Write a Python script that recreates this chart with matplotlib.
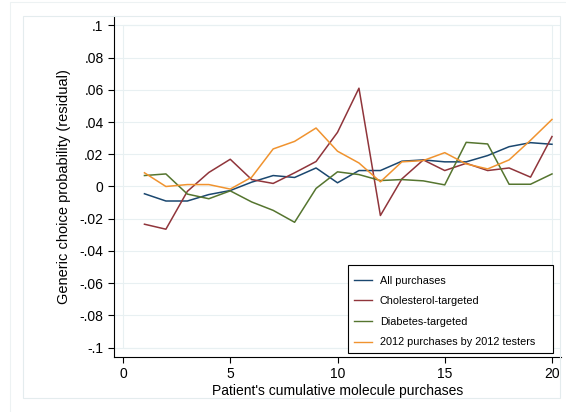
import matplotlib.pyplot as plt
from matplotlib.patches import Rectangle

plt.rcParams['font.family'] = ['Liberation Sans', 'DejaVu Sans']

purchases = list(range(1, 21))

all_purchases = [-0.0045, -0.009, -0.009, -0.005, -0.0025, 0.0027, 0.0068, 0.0056, 0.0115, 0.0023,
                 0.0099, 0.0099, 0.0157, 0.0165, 0.0153, 0.0153, 0.0192, 0.0247, 0.0272, 0.0262]
cholesterol = [-0.0234, -0.0265, -0.003, 0.0087, 0.0169, 0.0043, 0.0019, 0.0085, 0.0155, 0.0336,
               0.061, -0.018, 0.0047, 0.0165, 0.0099, 0.0144, 0.0099, 0.0115, 0.0058, 0.031]
diabetes = [0.0068, 0.0078, -0.0047, -0.0076, -0.0027, -0.0096, -0.0148, -0.0222, -0.0012, 0.0091,
            0.0074, 0.0037, 0.0043, 0.0035, 0.001, 0.0274, 0.0264, 0.0014, 0.0014, 0.0078]
testers_2012 = [0.0085, 0.0, 0.0012, 0.0012, -0.0016, 0.0058, 0.0233, 0.028, 0.0363, 0.0219,
                0.0146, 0.0029, 0.0153, 0.0161, 0.021, 0.014, 0.0109, 0.0165, 0.0287, 0.0416]

series = [
    ("All purchases", all_purchases, '#1a476f'),
    ("Cholesterol-targeted", cholesterol, '#90353b'),
    ("Diabetes-targeted", diabetes, '#55752f'),
    ("2012 purchases by 2012 testers", testers_2012, '#f0932f'),
]

yticks = [-0.1, -0.08, -0.06, -0.04, -0.02, 0, 0.02, 0.04, 0.06, 0.08, 0.1]
ytick_labels = ['-.1', '-.08', '-.06', '-.04', '-.02', '0', '.02', '.04', '.06', '.08', '.1']
xticks = [0, 5, 10, 15, 20]

W, H = 566, 412
fig = plt.figure(figsize=(W / 100, H / 100), dpi=100)
fig.patch.set_facecolor('white')

# faint Stata-like graph region outlines
fig.patches.append(Rectangle((10 / W, -0.05), 1.0, 1 - 2 / H + 0.05, transform=fig.transFigure,
                             fill=False, edgecolor='#edf2f3', linewidth=0.8))
fig.patches.append(Rectangle((23 / W, 1 - 398 / H), 537 / W, 382 / H, transform=fig.transFigure,
                             fill=False, edgecolor='#e4ecee', linewidth=0.8))

ax = fig.add_axes([114 / W, 1 - 357 / H, 447 / W, 341 / H])
ax.set_xlim(-0.42, 20.42)
ax.set_ylim(-0.1058, 0.1058)

# grid lines and plot region box
for t in yticks:
    ax.axhline(t, color='#e8f0f2', linewidth=0.8, zorder=0)
ax.add_patch(Rectangle((0, -0.1), 20, 0.2, fill=False, edgecolor='#e8f0f2', linewidth=0.8, zorder=0))

for name, vals, col in series:
    ax.plot(purchases, vals, color=col, linewidth=1.1, label=name)

ax.set_yticks(yticks)
ax.set_yticklabels(ytick_labels)
ax.set_xticks(xticks)
ax.tick_params(axis='both', direction='out', length=4, width=0.8, labelsize=10, colors='black')
for s in ['top', 'right']:
    ax.spines[s].set_visible(False)
for s in ['left', 'bottom']:
    ax.spines[s].set_linewidth(0.8)

ax.set_xlabel("Patient's cumulative molecule purchases", fontsize=10, labelpad=2)
ax.set_ylabel("Generic choice probability (residual)", fontsize=10.5, labelpad=6)

# legend box drawn by hand (Stata pads it unevenly), entries without frame
ax.add_patch(Rectangle((348 / W, 1 - 353 / H), 205 / W, 88 / H, transform=fig.transFigure,
                       facecolor='white', edgecolor='black', linewidth=0.8, zorder=5, clip_on=False))
leg = ax.legend(loc='upper left', bbox_to_anchor=(354 / W, 1 - 275.5 / H), bbox_transform=fig.transFigure,
                fontsize=7.8, frameon=False, handlelength=1.65, handletextpad=0.75,
                labelspacing=0.98, borderpad=0, borderaxespad=0)
leg.set_zorder(6)
for line in leg.get_lines():
    line.set_linewidth(1.0)

fig.savefig('out.png', dpi=100)
